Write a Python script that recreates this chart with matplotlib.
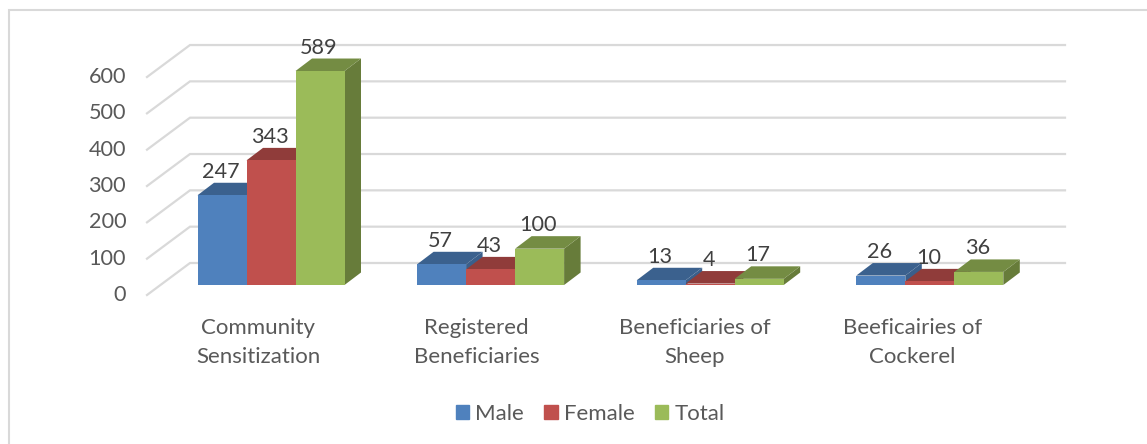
import matplotlib
matplotlib.use("Agg")
import matplotlib.pyplot as plt
from matplotlib.lines import Line2D
from matplotlib.patches import Patch

categories = ["Community\nSensitization", "Registered\nBeneficiaries",
              "Beneficiaries of\nSheep", "Beeficairies of\nCockerel"]
male = [247, 57, 13, 26]
female = [343, 43, 4, 10]
total = [589, 100, 17, 36]
y_ticks = [0, 100, 200, 300, 400, 500, 600]

series = [
    ("Male", male, "#4F81BD", "#3B618E", "#3A5F8B"),
    ("Female", female, "#C0504D", "#903C3A", "#8C3A38"),
    ("Total", total, "#9BBB59", "#748C43", "#677C3A"),
]

plt.rcParams["font.family"] = ["Lato", "DejaVu Sans"]

W, H = 1147, 444
X0, X_UNIT = 271.0, 219.6   # pixel of first group centre, pixels per category
Y0, Y_UNIT = 285.0, 0.3633  # pixel of value 0 at bar front, pixels per value
bar_w = 49 / X_UNIT
dep_x = 16.5 / X_UNIT
dep_y = 12.5 / Y_UNIT

fig = plt.figure(figsize=(W / 100, H / 100), dpi=100)
ax = fig.add_axes([0, 0, 1, 1])
ax.set_xlim(-X0 / X_UNIT, (W - X0) / X_UNIT)
ax.set_ylim(-(H - Y0) / Y_UNIT, Y0 / Y_UNIT)
ax.axis("off")

# chart border, only top and left are inside the crop
fig.add_artist(Line2D([9 / W, 9 / W, 1], [0, 1 - 10 / H, 1 - 10 / H], transform=fig.transFigure,
                      color="#D9D9D9", lw=1.5, solid_joinstyle="miter"))

# walls: slanted part then the back line
wall_x = [(147 - X0) / X_UNIT, (190 - X0) / X_UNIT, (1065 - X0) / X_UNIT]
wall_front = -10 / Y_UNIT
wall_back = 22 / Y_UNIT
for t in y_ticks:
    ax.plot(wall_x, [t + wall_front, t + wall_back, t + wall_back],
            color="#D9D9D9", lw=1.6, zorder=1, solid_joinstyle="miter")
    ax.annotate(str(t), (wall_x[0], t + wall_front), xytext=(-15, 0), textcoords="offset points",
                ha="right", va="center", fontsize=15.6, color="#595959")

z = 2
for i, (name, values, front, top, side) in enumerate(series):
    for j, v in enumerate(values):
        left = j + (i - 1.5) * bar_w
        right = left + bar_w
        ax.fill([right, right + dep_x, right + dep_x, right],
                [0, dep_y, v + dep_y, v], color=side, lw=0, zorder=z)
        ax.fill([left, right, right + dep_x, left + dep_x],
                [v, v, v + dep_y, v + dep_y], color=top, lw=0, zorder=z)
        ax.bar(left, v, width=bar_w, align="edge", color=front, lw=0, zorder=z)
        z += 1

for i, (name, values, front, top, side) in enumerate(series):
    for j, v in enumerate(values):
        ax.annotate(str(v), (j + (i - 1) * bar_w, v), xytext=(-1, 16.9), textcoords="offset points",
                    ha="center", va="center", fontsize=15.6, color="#404040", zorder=50)

for j, c in enumerate(categories):
    ax.annotate(c, (j * 218 / X_UNIT, 0), xytext=(-9, -23.8), textcoords="offset points", ha="center",
                va="top", fontsize=16, color="#595959", linespacing=1.57, zorder=50)

handles = [Patch(color=s[2], label=s[0]) for s in series]
ax.legend(handles=handles, loc="center", bbox_to_anchor=(590 / W, 1 - 414 / H), ncol=3, frameon=False,
          fontsize=16, labelcolor="#595959", handlelength=0.62, handleheight=0.62,
          handletextpad=0.27, columnspacing=0.9, borderpad=0)

fig.savefig("out.png", dpi=100, facecolor="white")
